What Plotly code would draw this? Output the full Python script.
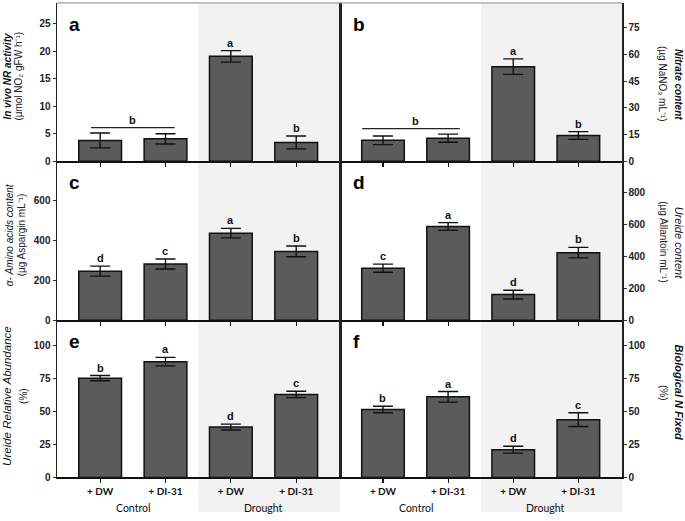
import plotly.graph_objects as go

# ---------------- data ----------------
positions = [0, 1, 2, 3]
tick_labels = ["+ DW", "+ DI-31", "+ DW", "+ DI-31"]
groups = ["Control", "Drought"]
group_centers = [0.5, 2.5]

nr_activity = [3.76, 4.06, 19.08, 3.40]
nr_activity_err = [1.35, 0.93, 1.05, 1.17]
nr_activity_letters = ["", "", "a", "b"]
nr_activity_ticks = [0, 5, 10, 15, 20, 25]

nitrate = [11.7, 12.9, 53.1, 14.4]
nitrate_err = [2.4, 2.3, 4.35, 2.2]
nitrate_letters = ["", "", "a", "b"]
nitrate_ticks = [0, 15, 30, 45, 60, 75]

amino_acids = [247, 283, 438, 346]
amino_acids_err = [25, 25, 24, 27]
amino_acids_letters = ["d", "c", "a", "b"]
amino_acids_ticks = [0, 200, 400, 600]

ureide = [325, 585, 160, 422]
ureide_err = [25, 24, 27, 33]
ureide_letters = ["c", "a", "d", "b"]
ureide_ticks = [0, 200, 400, 600, 800]

ureide_rel = [75.1, 87.6, 38.1, 62.8]
ureide_rel_err = [2.0, 3.2, 2.2, 2.4]
ureide_rel_letters = ["b", "a", "d", "c"]
ureide_rel_ticks = [0, 25, 50, 75, 100]

bnf = [51.4, 61.0, 21.0, 43.7]
bnf_err = [2.5, 4.0, 2.6, 5.2]
bnf_letters = ["b", "a", "d", "c"]
bnf_ticks = [0, 25, 50, 75, 100]

# ---------------- layout helpers ----------------
W, H = 685, 521
def fx(px):
    return px / W
def fy(py):
    return 1 - py / H

col_px = [(57, 340), (340, 622)]
row_px = [(3, 163), (163, 324), (324, 483)]

panels = [
    dict(tag="a", vals=nr_activity, err=nr_activity_err, letters=nr_activity_letters,
         ticks=nr_activity_ticks, group=("b", -0.14, 1.14), ymax=28.8, col=0, row=0,
         t1="<b><i>In vivo NR activity</i></b>", t2="(µmol NO₂ gFW h⁻¹)",
         tx=(7.5, 18.5), ty=77, fs1=10),
    dict(tag="b", vals=nitrate, err=nitrate_err, letters=nitrate_letters,
         ticks=nitrate_ticks, group=("b", -0.32, 1.18), ymax=88.9, col=1, row=0,
         t1="<b><i>Nitrate content</i></b>", t2="(µg NaNO₃ mL⁻¹)",
         tx=(679, 663), ty=85, fs1=10),
    dict(tag="c", vals=amino_acids, err=amino_acids_err, letters=amino_acids_letters,
         ticks=amino_acids_ticks, group=None, ymax=800, col=0, row=1,
         t1="<i>α- Amino acids content</i>", t2="(µg Aspargin mL⁻¹)",
         tx=(9, 21), ty=238, fs1=10),
    dict(tag="d", vals=ureide, err=ureide_err, letters=ureide_letters,
         ticks=ureide_ticks, group=None, ymax=993, col=1, row=1,
         t1="<i>Ureide content</i>", t2="(µg Allantoin mL⁻¹)",
         tx=(678.5, 664), ty=245, fs1=11),
    dict(tag="e", vals=ureide_rel, err=ureide_rel_err, letters=ureide_rel_letters,
         ticks=ureide_rel_ticks, group=None, ymax=118.9, col=0, row=2,
         t1="<i>Ureide Relative Abundance</i>", t2="(%)",
         tx=(7.5, 23.5), ty=401, fs1=11.5),
    dict(tag="f", vals=bnf, err=bnf_err, letters=bnf_letters,
         ticks=bnf_ticks, group=None, ymax=118.9, col=1, row=2,
         t1="<b><i>Biological N Fixed</i></b>", t2="(%)",
         tx=(679, 663.5), ty=397, fs1=11),
]

XRANGE = [-0.66, 3.67]
ARIAL = "Arial, Liberation Sans, sans-serif"
LATO = "Lato, Open Sans, sans-serif"

fig = go.Figure()
shapes = []
annotations = []
layout_axes = {}

for i, p in enumerate(panels, start=1):
    xa = "x" if i == 1 else f"x{i}"
    ya = "y" if i == 1 else f"y{i}"
    c0, c1 = col_px[p["col"]]
    r0, r1 = row_px[p["row"]]
    fig.add_trace(go.Bar(
        x=positions, y=p["vals"], xaxis=xa, yaxis=ya, width=0.654,
        marker=dict(color="#5b5b5b", line=dict(color="#111111", width=1.5)),
        error_y=dict(type="data", array=p["err"], color="#111111", thickness=1.4, width=10),
        showlegend=False, hoverinfo="skip",
    ))
    bottom = p["row"] == 2
    layout_axes["xaxis" + ("" if i == 1 else str(i))] = dict(
        domain=[fx(c0), fx(c1)], range=XRANGE, anchor=ya,
        tickmode="array", tickvals=positions, ticktext=tick_labels,
        showticklabels=bottom, ticks="outside", ticklen=4, tickwidth=1.2, tickcolor="#111",
        showline=True, linecolor="#111", linewidth=2, showgrid=False, zeroline=False,
        tickfont=dict(family=LATO, size=10, color="#111", weight="bold"), fixedrange=True,
    )
    layout_axes["yaxis" + ("" if i == 1 else str(i))] = dict(
        domain=[fy(r1), fy(r0)], range=[0, p["ymax"]], anchor=xa,
        side="left" if p["col"] == 0 else "right",
        tickmode="array", tickvals=p["ticks"], ticktext=[str(t) for t in p["ticks"]],
        ticks="outside", ticklen=3, tickwidth=1, tickcolor="#333",
        showline=True, linecolor="#222", linewidth=1.5, mirror=True,
        showgrid=False, zeroline=False,
        tickfont=dict(family=ARIAL, size=10, color="#222", weight="bold"), fixedrange=True,
    )
    # significance letters
    for xpos, v, e, lt in zip(positions, p["vals"], p["err"], p["letters"]):
        if lt:
            annotations.append(dict(x=xpos, y=v + e, xref=xa, yref=ya, text=lt,
                                    showarrow=False, yanchor="bottom", yshift=0,
                                    font=dict(family=ARIAL, size=11, color="#111", weight="bold")))
    if p["group"]:
        lt, gx0, gx1 = p["group"]
        px_per_unit = (r1 - r0) / p["ymax"]
        top = max(v + e for v, e in list(zip(p["vals"], p["err"]))[:2])
        gy = top + 5.5 / px_per_unit
        shapes.append(dict(type="line", xref=xa, yref=ya, x0=gx0, x1=gx1, y0=gy, y1=gy,
                           line=dict(color="#222", width=1.2)))
        annotations.append(dict(x=0.5, y=gy, xref=xa, yref=ya, text=lt, showarrow=False,
                                yanchor="bottom", yshift=0,
                                font=dict(family=ARIAL, size=11, color="#111", weight="bold")))
    # panel label
    annotations.append(dict(x=0.035 if p["col"] == 0 else 0.04, y=0.865,
                            xref=xa + " domain", yref=ya + " domain", text=f"<b>{p['tag']}</b>",
                            showarrow=False, xanchor="left", yanchor="middle",
                            font=dict(family=ARIAL, size=19, color="#000")))
    # axis titles
    ang = -90 if p["col"] == 0 else 90
    annotations.append(dict(x=fx(p["tx"][0]), y=fy(p["ty"]), xref="paper", yref="paper",
                            text=p["t1"], showarrow=False, textangle=ang,
                            xanchor="center", yanchor="middle",
                            font=dict(family=ARIAL, size=p["fs1"], color="#111")))
    annotations.append(dict(x=fx(p["tx"][1]), y=fy(p["ty"]), xref="paper", yref="paper",
                            text=p["t2"], showarrow=False, textangle=ang,
                            xanchor="center", yanchor="middle",
                            font=dict(family=ARIAL, size=10, color="#222")))

# drought shading and group labels
for xa in ["x5", "x6"]:
    shapes.append(dict(type="rect", xref=xa, yref="paper", x0=1.5, x1=XRANGE[1],
                       y0=fy(518), y1=fy(3), fillcolor="#f2f2f2", line=dict(width=0), layer="below"))
    for gc, gname in zip(group_centers, groups):
        annotations.append(dict(x=gc, y=fy(509), xref=xa, yref="paper", text=gname,
                                showarrow=False, yanchor="middle", yshift=-5,
                                font=dict(family=LATO, size=10.5, color="#111")))

# top border
shapes.append(dict(type="line", xref="paper", yref="paper", x0=fx(57), x1=fx(622),
                   y0=fy(3), y1=fy(3), line=dict(color="#888", width=1)))

fig.update_layout(
    width=W, height=H, margin=dict(l=0, r=0, t=0, b=0),
    paper_bgcolor="white", plot_bgcolor="rgba(0,0,0,0)",
    shapes=shapes, annotations=annotations, bargap=0, showlegend=False,
    **layout_axes,
)

fig.write_html("out.html", config={"displayModeBar": False, "staticPlot": True},
               post_script="document.body.style.margin='0';document.body.style.overflow='hidden';")
